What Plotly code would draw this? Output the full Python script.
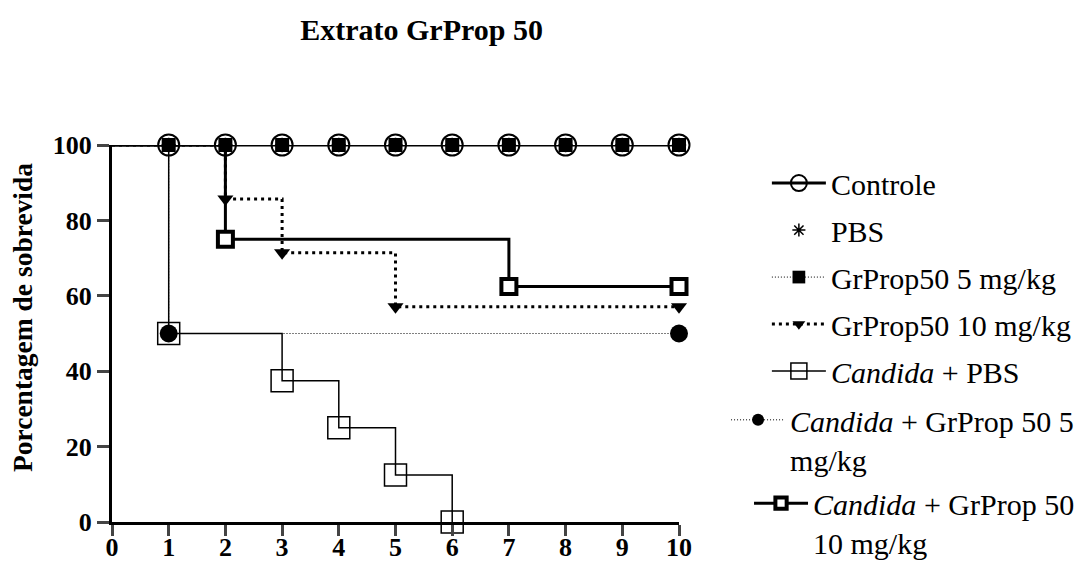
import plotly.graph_objects as go

# ---- data (Kaplan-Meier steps, day vs % survival) ----
controle_x = [0, 1, 2, 3, 4, 5, 6, 7, 8, 9, 10]
controle_y = [100, 100, 100, 100, 100, 100, 100, 100, 100, 100, 100]
pbs_x = [0, 1, 2, 3, 4, 5, 6, 7, 8, 9, 10]
pbs_y = [100, 100, 100, 100, 100, 100, 100, 100, 100, 100, 100]
g5_x = [0, 1, 2, 3, 4, 5, 6, 7, 8, 9, 10]
g5_y = [100, 100, 100, 100, 100, 100, 100, 100, 100, 100, 100]
g10_x = [0, 2, 3, 5, 10]
g10_y = [100, 85.7, 71.4, 57.1, 57.1]
cpbs_x = [0, 1, 3, 4, 5, 6]
cpbs_y = [100, 50, 37.5, 25, 12.5, 0]
cg5_x = [0, 1, 10]
cg5_y = [100, 50, 50]
cg10_x = [0, 2, 7, 10]
cg10_y = [100, 75, 62.5, 62.5]

x_ticks = [0, 1, 2, 3, 4, 5, 6, 7, 8, 9, 10]
y_ticks = [0, 20, 40, 60, 80, 100]

names = ["Controle", "PBS", "GrProp50 5 mg/kg", "GrProp50 10 mg/kg",
         "<i>Candida</i> + PBS", "<i>Candida</i> + GrProp 50 5<br>mg/kg",
         "<i>Candida</i> + GrProp 50<br>10 mg/kg"]
title_text = "<b>Extrato GrProp 50</b>"
y_title = "<b>Porcentagem de sobrevida</b>"

FONT = "Liberation Serif"


def sizes(xs, s):
    # no marker at the starting point (day 0)
    return [0] + [s] * (len(xs) - 1)


fig = go.Figure()

# (x, y, marker, size, line, mode, legend, rank, name) ; drawn in this order
specs = [
    (pbs_x, pbs_y, dict(symbol="asterisk-open", color="black", line=dict(width=1.5, color="black")), 12,
     dict(color="black", width=1), "markers", "legend", 2, names[1]),
    (controle_x, controle_y, dict(symbol="circle-open", color="black", line=dict(width=2, color="black")), 21,
     dict(color="black", width=3), "lines+markers", "legend", 1, names[0]),
    (g5_x, g5_y, dict(symbol="square", color="black", line=dict(width=0)), 14,
     dict(color="black", width=1, dash="1px,2px"), "lines+markers", "legend", 3, names[2]),
    (g10_x, g10_y, dict(symbol="triangle-down", color="black", line=dict(width=0)), 14,
     dict(color="black", width=3, dash="3px,4px"), "lines+markers", "legend", 4, names[3]),
    (cpbs_x, cpbs_y, dict(symbol="square-open", color="black", line=dict(width=1.5, color="black")), 22,
     dict(color="black", width=1.5), "lines+markers", "legend", 5, names[4]),
    (cg5_x, cg5_y, dict(symbol="circle", color="black", line=dict(width=0)), 18,
     dict(color="black", width=1, dash="1px,2px"), "lines+markers", "legend2", 6, names[5]),
    (cg10_x, cg10_y, dict(symbol="square", color="white", line=dict(width=4, color="black")), 15,
     dict(color="black", width=3), "lines+markers", "legend3", 7, names[6]),
]

for i, (xs, ys, mk, s, ln, mode, leg, rank, nm) in enumerate(specs):
    mk = dict(mk)
    mk["size"] = sizes(xs, s)
    mk["opacity"] = 1
    fig.add_trace(go.Scatter(
        x=xs, y=ys, mode=mode, name=nm, legendgroup=str(rank), legend=leg, legendrank=rank,
        line=dict(shape="hv", **ln), marker=mk, cliponaxis=False,
    ))

LEGFONT = dict(family=FONT, size=30, color="black")
common_leg = dict(xanchor="left", yanchor="top", valign="top", font=LEGFONT,
                  bgcolor="rgba(0,0,0,0)", itemwidth=54, maxheight=600)

fig.update_layout(
    width=1081, height=563,
    margin=dict(l=112, r=402, t=145, b=41, autoexpand=False),
    paper_bgcolor="white", plot_bgcolor="white",
    font=dict(family=FONT, color="black"),
    title=dict(text=title_text, font=dict(family=FONT, size=30, color="black"),
               x=0.39, xref="container", xanchor="center",
               y=1 - 29 / 563, yref="container", yanchor="middle"),
    legend=dict(x=1.155, y=0.968, tracegroupgap=5, **common_leg),
    legend2=dict(x=1.083, y=0.340, **common_leg),
    legend3=dict(x=1.1235, y=0.119, **common_leg),
    showlegend=True,
    annotations=[dict(text=y_title, textangle=-90, xref="paper", yref="paper",
                      x=-0.1587, y=0.541, xanchor="center", yanchor="middle", showarrow=False,
                      font=dict(family=FONT, size=27.5, color="black"))],
)
fig.update_xaxes(range=[0, 10], tickvals=x_ticks, ticks="outside", ticklen=11, tickwidth=3,
                 showline=True, linewidth=3, linecolor="black", showgrid=False, zeroline=False,
                 ticklabelstandoff=-11,
                 tickfont=dict(family=FONT, size=26, color="black", weight="bold"))
fig.update_yaxes(range=[0, 100], tickvals=y_ticks, ticks="outside", ticklen=12, tickwidth=3,
                 showline=True, linewidth=3, linecolor="black", showgrid=False, zeroline=False,
                 tickfont=dict(family=FONT, size=26, color="black", weight="bold"))

fig.write_html("out.html")
